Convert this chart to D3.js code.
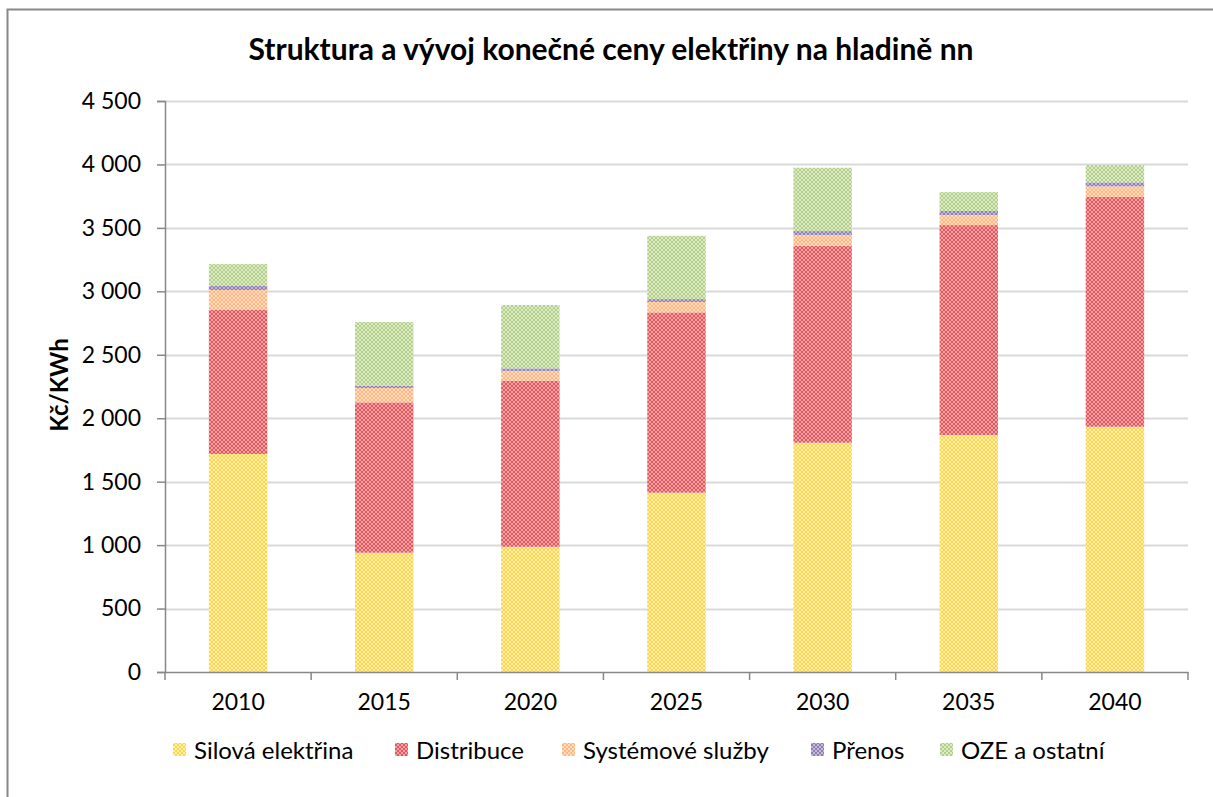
<!DOCTYPE html>
<html>
<head>
<meta charset="utf-8">
<script src="https://cdn.jsdelivr.net/npm/d3@7"></script>
<style>
  html, body { margin: 0; padding: 0; background: #fff; overflow: hidden; }
  svg { display: block; }
  text { font-family: Lato, "Open Sans", sans-serif; fill: #000; }
</style>
</head>
<body>
<div id="chart"></div>
<script>
// data
var years = ["2010", "2015", "2020", "2025", "2030", "2035", "2040"];
var seriesNames = ["Silová elektřina", "Distribuce", "Systémové služby", "Přenos", "OZE a ostatní"];
var silova     = [1718, 940, 987, 1413, 1807, 1868, 1933];
var distribuce = [1135, 1185, 1309, 1421, 1552, 1654, 1813];
var systemove  = [157, 113, 76, 82, 85, 79, 81];
var prenos     = [32, 18, 21, 23, 31, 32, 32];
var oze        = [173, 502, 499, 499, 499, 149, 136];
var yTicks = [0, 500, 1000, 1500, 2000, 2500, 3000, 3500, 4000, 4500];

// colors: base + light for checker pattern
var colors = [
  ["#ffd54f", "#fff0a8"],
  ["#e0585c", "#f3a3a5"],
  ["#ffb77f", "#ffdcc0"],
  ["#8f7fb3", "#c3b8d8"],
  ["#b3d08a", "#dcebc6"]
];

var width = 1213, height = 797;
var margin = { top: 101, left: 165, right: 25, bottom: 125 };
var innerW = 1188 - margin.left;
var innerH = 672 - margin.top;

var svg = d3.select("#chart").append("svg")
  .attr("width", width)
  .attr("height", height);

// patterns
var defs = svg.append("defs");
colors.forEach(function(c, i) {
  var p = defs.append("pattern")
    .attr("id", "pat" + i)
    .attr("width", 4).attr("height", 4)
    .attr("patternUnits", "userSpaceOnUse");
  p.append("rect").attr("width", 4).attr("height", 4).attr("fill", c[0]);
  p.append("rect").attr("x", 0).attr("y", 0).attr("width", 2).attr("height", 2).attr("fill", c[1]);
  p.append("rect").attr("x", 2).attr("y", 2).attr("width", 2).attr("height", 2).attr("fill", c[1]);
});

// outer frame: only top and left edges are inside the picture
svg.append("path")
  .attr("d", "M7.5,900V9.5H1400")
  .attr("fill", "none")
  .attr("stroke", "#888")
  .attr("stroke-width", 2);

// title
svg.append("text")
  .attr("x", 611).attr("y", 60)
  .attr("text-anchor", "middle")
  .style("font-size", "30px")
  .style("font-weight", "bold")
  .text("Struktura a vývoj konečné ceny elektřiny na hladině nn");

var g = svg.append("g")
  .attr("transform", "translate(" + margin.left + "," + margin.top + ")");

var x = d3.scaleBand().domain(years).range([0, innerW]).paddingInner(0.6).paddingOuter(0.3);
var xb = d3.scaleBand().domain(years).range([0, innerW]);
var y = d3.scaleLinear().domain([0, 4500]).range([innerH, 0]);

var loc = d3.formatLocale({ decimal: ",", thousands: " ", grouping: [3], currency: ["", ""] });
var fmt = loc.format(",d");

// gridlines
g.selectAll(".grid").data(yTicks.slice(1)).enter().append("line")
  .attr("x1", 0).attr("x2", innerW)
  .attr("y1", function(d) { return Math.round(y(d)) + 0.5; })
  .attr("y2", function(d) { return Math.round(y(d)) + 0.5; })
  .attr("stroke", "#d9d9d9")
  .attr("stroke-width", 2);

// stacked bars
var table = years.map(function(yr, i) {
  return { year: yr, s0: silova[i], s1: distribuce[i], s2: systemove[i], s3: prenos[i], s4: oze[i] };
});
var stack = d3.stack().keys(["s0", "s1", "s2", "s3", "s4"]);
var layers = stack(table);

g.selectAll(".layer").data(layers).enter().append("g")
  .attr("fill", function(d, i) { return "url(#pat" + i + ")"; })
  .selectAll("rect").data(function(d) { return d; }).enter().append("rect")
  .attr("x", function(d) { return x(d.data.year); })
  .attr("width", x.bandwidth())
  .attr("y", function(d) { return y(d[1]); })
  .attr("height", function(d) { return y(d[0]) - y(d[1]); });

// y axis
var yAxis = d3.axisLeft(y).tickValues(yTicks).tickFormat(fmt).tickSize(8).tickPadding(16);
var ya = g.append("g").call(yAxis);
ya.select(".domain").attr("stroke", "#888").attr("stroke-width", 1.5);
ya.selectAll(".tick line").attr("stroke", "#888").attr("stroke-width", 1.5);
ya.selectAll("text").style("font-size", "23px");

// x axis
var xa = g.append("g").attr("transform", "translate(0," + innerH + ")")
  .call(d3.axisBottom(xb).tickSize(0).tickPadding(22));
xa.select(".domain").attr("stroke", "#888").attr("stroke-width", 1.5);
xa.selectAll("text").style("font-size", "23px");
// separators between categories
xa.selectAll(".sep").data(d3.range(years.length + 1)).enter().append("line")
  .attr("x1", function(d) { return d * xb.step(); })
  .attr("x2", function(d) { return d * xb.step(); })
  .attr("y1", 0).attr("y2", 8)
  .attr("stroke", "#888").attr("stroke-width", 1.5);

// y axis title
svg.append("text")
  .attr("transform", "translate(68,385) rotate(-90)")
  .attr("text-anchor", "middle")
  .style("font-size", "24px")
  .style("font-weight", "bold")
  .text("Kč/KWh");

// legend
var legendX = [173, 395, 562, 811, 940];
var legend = svg.selectAll(".leg").data(seriesNames).enter().append("g")
  .attr("transform", function(d, i) { return "translate(" + legendX[i] + ",750)"; });
legend.append("rect")
  .attr("x", 0).attr("y", -7).attr("width", 13).attr("height", 13)
  .attr("fill", function(d, i) { return "url(#pat" + i + ")"; });
legend.append("text")
  .attr("x", 21).attr("y", 9)
  .style("font-size", "24px")
  .text(function(d) { return d; });
</script>
</body>
</html>
